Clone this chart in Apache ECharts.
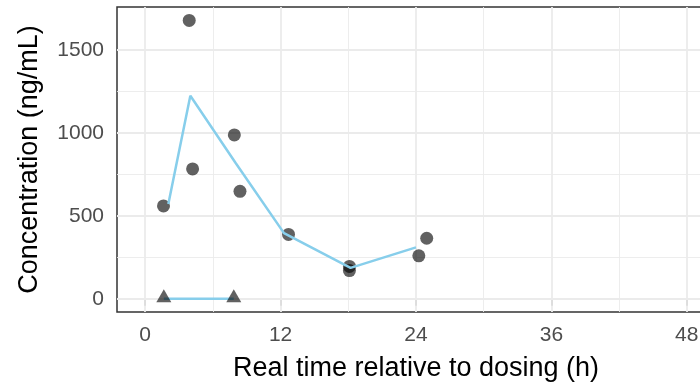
<!DOCTYPE html>
<html>
<head>
<meta charset="utf-8">
<script src="https://cdn.jsdelivr.net/npm/echarts@6/dist/echarts.min.js"></script>
<style>html,body{margin:0;padding:0;background:#fff;}#c{width:700px;height:388px;}</style>
</head>
<body>
<div id="c"></div>
<script>
// Observed concentrations (circles)
var obsTime = [1.62, 3.9, 4.2, 7.9, 8.4, 12.7, 18.1, 18.1, 24.25, 24.95];
var obsConc = [560, 1679, 783, 988, 648, 388, 195, 170, 259, 365];
// Below-limit observations (triangles)
var blqTime = [1.65, 7.85];
var blqConc = [0, 0];
// Mean profile line
var meanTime = [2.05, 4.0, 8.0, 12.3, 18.2, 24.0];
var meanConc = [572, 1225, 820, 396, 186, 310];
// BLQ line
var blqLineTime = [1.65, 7.85];
var blqLineConc = [0, 0];
// Ticks
var xTicks = [0, 12, 24, 36, 48];
var xMinor = [6, 18, 30, 42];
var yTicks = [0, 500, 1000, 1500];
var yMinor = [250, 750, 1250];

function pairs(xs, ys) { return xs.map(function (x, i) { return [x, ys[i]]; }); }

var font = "'Liberation Sans', Arial, sans-serif";
var chart = echarts.init(document.getElementById('c'), null, {renderer: 'canvas'});

function gridSeries(xs, ys, width) {
  var d = xs.map(function (v) { return {xAxis: v}; }).concat(ys.map(function (v) { return {yAxis: v}; }));
  return {
    type: 'line', data: [], silent: true, z: 1, zlevel: 0,
    markLine: {
      silent: true, symbol: 'none', animation: false, z: 1,
      label: {show: false},
      lineStyle: {color: '#EBEBEB', width: width, type: 'solid'},
      emphasis: {disabled: true},
      data: d
    }
  };
}

chart.setOption({
  animation: false,
  backgroundColor: '#fff',
  grid: {left: 117, top: 7, right: -15, bottom: 76, containLabel: false, outerBoundsMode: 'none',
         show: true, borderColor: '#333333', borderWidth: 1.5, backgroundColor: 'transparent'},
  xAxis: {
    type: 'value', min: -2.5, max: 50.5,
    axisLine: {show: false},
    splitLine: {show: false},
    axisTick: {show: true, customValues: xTicks, length: 7, lineStyle: {color: '#333333', width: 1.5}},
    axisLabel: {customValues: xTicks, color: '#4D4D4D', fontSize: 21, fontFamily: font, margin: 13,
                formatter: function (v) { return String(v); }},
    name: 'Real time relative to dosing (h)', nameLocation: 'middle', nameGap: 43,
    nameTextStyle: {color: '#000', fontSize: 27, fontFamily: font}
  },
  yAxis: {
    type: 'value', min: -80, max: 1760,
    axisLine: {show: false},
    splitLine: {show: false},
    axisTick: {show: true, customValues: yTicks, length: 7, lineStyle: {color: '#333333', width: 1.5}},
    axisLabel: {customValues: yTicks, color: '#4D4D4D', fontSize: 21, fontFamily: font, margin: 13,
                formatter: function (v) { return String(v); }},
    name: 'Concentration (ng/mL)', nameLocation: 'middle', nameGap: 74, nameRotate: 90,
    nameTextStyle: {color: '#000', fontSize: 27, fontFamily: font}
  },
  series: [
    gridSeries(xMinor, yMinor, 0.9),
    gridSeries(xTicks, yTicks, 1.8),
    {
      type: 'scatter', data: pairs(obsTime, obsConc), symbol: 'circle', symbolSize: 13, z: 3,
      itemStyle: {color: 'rgba(0,0,0,0.62)', opacity: 1}, silent: true
    },
    {
      type: 'line', data: pairs(blqLineTime, blqLineConc), symbol: 'none', z: 4,
      lineStyle: {color: '#87CEEB', width: 2.5}, silent: true
    },
    {
      type: 'scatter', data: pairs(blqTime, blqConc), symbol: 'triangle', symbolSize: [15, 13], symbolOffset: [0, -3], z: 5,
      itemStyle: {color: 'rgba(0,0,0,0.62)', opacity: 1}, silent: true
    },
    {
      type: 'line', data: pairs(meanTime, meanConc), symbol: 'none', z: 4,
      lineStyle: {color: '#87CEEB', width: 2.5}, silent: true
    }
  ]
});
</script>
</body>
</html>
